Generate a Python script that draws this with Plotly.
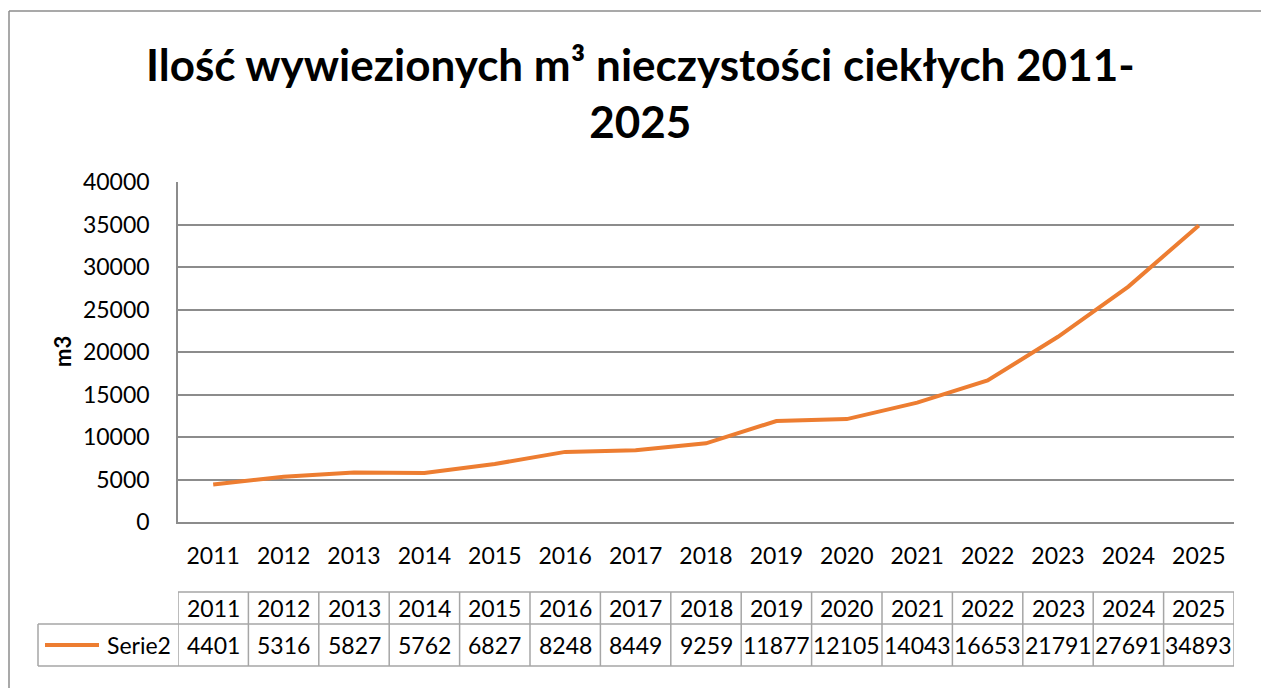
import plotly.graph_objects as go

years = ["2011", "2012", "2013", "2014", "2015", "2016", "2017", "2018",
         "2019", "2020", "2021", "2022", "2023", "2024", "2025"]
values = [4401, 5316, 5827, 5762, 6827, 8248, 8449, 9259,
          11877, 12105, 14043, 16653, 21791, 27691, 34893]
series_name = "Serie2"
title_text = "Ilość wywiezionych m³ nieczystości ciekłych 2011-<br>2025"
y_title = "m3"

W, H = 1261, 688
L, R, T, B = 178, 1234, 182, 522  # plot area in pixels
PW, PH = R - L, B - T

ORANGE = "#ED7D31"
GRID = "#8C8C8C"
BORDER = "#A6A6A6"
FONT = "Lato"

def py(ypx):
    return (B - ypx) / PH

def px(xpx):
    return (xpx - L) / PW

fig = go.Figure()
fig.add_trace(go.Scatter(x=years, y=values, mode="lines", name=series_name,
                         line=dict(color=ORANGE, width=4), showlegend=False))

shapes = []
annotations = []

# outer chart border (top and left visible)
shapes.append(dict(type="line", xref="paper", yref="paper", x0=px(9), x1=px(1262),
                   y0=py(11), y1=py(11), line=dict(color="#8C8C8C", width=1.5)))
shapes.append(dict(type="line", xref="paper", yref="paper", x0=px(9), x1=px(9),
                   y0=py(11), y1=py(700), line=dict(color="#8C8C8C", width=1.5)))

# data table
h_top, h_mid, h_bot = 592, 624, 666
n = len(years)
shapes.append(dict(type="line", xref="x", yref="paper", x0=-0.5, x1=n - 0.5,
                   y0=py(h_top), y1=py(h_top), line=dict(color=BORDER, width=1.5)))
shapes.append(dict(type="line", xref="paper", yref="paper", x0=px(38), x1=1,
                   y0=py(h_mid), y1=py(h_mid), line=dict(color=BORDER, width=1.5)))
shapes.append(dict(type="line", xref="paper", yref="paper", x0=px(38), x1=1,
                   y0=py(h_bot), y1=py(h_bot), line=dict(color=BORDER, width=1.5)))
for i in range(n + 1):
    shapes.append(dict(type="line", xref="x", yref="paper", x0=i - 0.5, x1=i - 0.5,
                       y0=py(h_top), y1=py(h_bot), line=dict(color=BORDER, width=1.5)))
shapes.append(dict(type="line", xref="paper", yref="paper", x0=px(38), x1=px(38),
                   y0=py(h_mid), y1=py(h_bot), line=dict(color=BORDER, width=1.5)))
# legend key
shapes.append(dict(type="line", xref="paper", yref="paper", x0=px(45), x1=px(99),
                   y0=py(645), y1=py(645), line=dict(color=ORANGE, width=4)))
annotations.append(dict(xref="paper", yref="paper", x=px(173), y=py(645),
                        text=series_name, showarrow=False, xanchor="right", yanchor="middle",
                        font=dict(family=FONT, size=23, color="#000")))
for i, (yr, v) in enumerate(zip(years, values)):
    annotations.append(dict(xref="x", yref="paper", x=i, y=py((h_top + h_mid) / 2),
                            text=yr, showarrow=False, xanchor="center", yanchor="middle",
                            font=dict(family=FONT, size=23, color="#000")))
    annotations.append(dict(xref="x", yref="paper", x=i, y=py((h_mid + h_bot) / 2),
                            text=str(v), showarrow=False, xanchor="center", yanchor="middle",
                            font=dict(family=FONT, size=23, color="#000")))

# y axis title
annotations.append(dict(xref="paper", yref="paper", x=px(62), y=0.5, text="<b>" + y_title + "</b>",
                        textangle=-90, showarrow=False, xanchor="center", yanchor="middle",
                        font=dict(family=FONT, size=22, color="#000")))

# chart title
annotations.append(dict(xref="paper", yref="paper", x=px(640), y=py(92),
                        text="<b>" + title_text + "</b>", showarrow=False,
                        xanchor="center", yanchor="middle", align="center",
                        font=dict(family=FONT, size=44, color="#000")))

fig.update_layout(
    width=W, height=H,
    margin=dict(l=L, r=W - R, t=T, b=H - B, pad=0),
    paper_bgcolor="white", plot_bgcolor="white",
    xaxis=dict(type="category", showgrid=False, showline=True, linecolor=GRID, linewidth=1.5,
               ticks="", tickfont=dict(family=FONT, size=23, color="#000"),
               ticklabelstandoff=13, range=[-0.5, n - 0.5], fixedrange=True),
    yaxis=dict(range=[0, 40000], dtick=5000, showgrid=True, gridcolor=GRID, gridwidth=1.5,
               showline=True, linecolor=GRID, linewidth=1.5, ticks="", zeroline=False,
               tickfont=dict(family=FONT, size=23, color="#000"), ticklabelstandoff=22,
               tickformat="d", fixedrange=True),
    shapes=shapes, annotations=annotations, showlegend=False,
)

fig.write_html("out.html", config={"displayModeBar": False},
               post_script="document.body.style.margin='0';document.body.style.overflow='hidden';")
